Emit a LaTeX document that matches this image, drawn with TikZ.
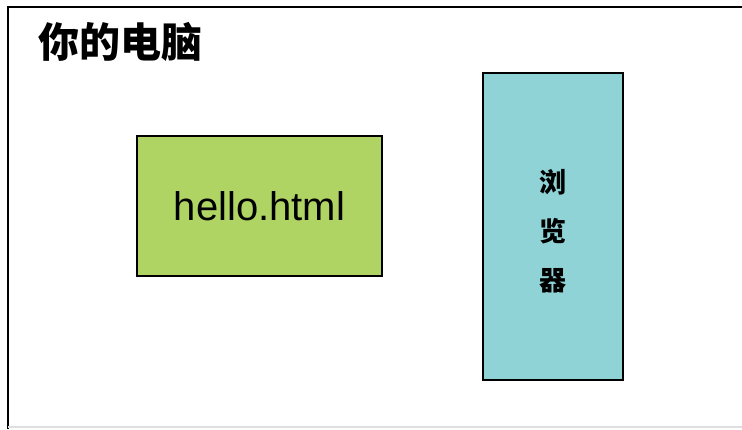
\documentclass[tikz,border=0pt]{standalone}
\usepackage{fontspec}
\setmainfont{Liberation Sans}
\newfontfamily\cjk{Noto Sans CJK SC}
\usetikzlibrary{positioning}
\definecolor{pagegreen}{RGB}{176,212,100}
\definecolor{browserblue}{RGB}{143,211,215}
\tikzset{
  box/.style={draw=black, line width=0.8pt, inner sep=0pt},
}

\begin{document}
\begin{tikzpicture}[x=0.5pt, y=-0.5pt]
\useasboundingbox (0,0) rectangle (742,429);
%frame
\draw[black, line width=1pt] (8,429) -- (8,7) -- (742,7);
\draw[gray!25, line width=0.6pt] (8,427) -- (742,427);
%title
\node[anchor=west, inner sep=0pt, font={\cjk\bfseries\fontsize{20.5}{20.5}\selectfont}] (computer) at (38,42) {你的电脑};
%boxes
\node[box, fill=pagegreen, minimum width=122.5pt, minimum height=70pt, font={\fontsize{20}{20}\selectfont}] (hello) at (259.5,206) {hello.html};
\node[box, fill=browserblue, minimum width=70pt, minimum height=153.5pt] (browser) at (553,226.5) {};
\node[align=center, inner sep=0pt, font={\cjk\bfseries\fontsize{13.5}{24.5}\selectfont}] (browsertext) at (553,231) {浏\\览\\器};
\end{tikzpicture}
\end{document}
